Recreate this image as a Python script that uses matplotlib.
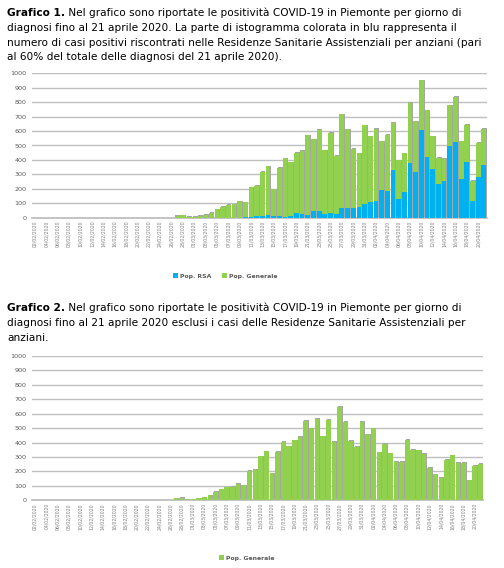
import matplotlib
matplotlib.use("Agg")
import matplotlib.pyplot as plt
import pandas as pd
import numpy as np

# ---------------- data ----------------
dates = pd.date_range("2020-02-02", "2020-04-21", freq="D")
date_labels = [d.strftime("%d/%m/%Y") for d in dates]

# Pop. Generale (non-RSA) positives per day of diagnosis, 02/02 .. 21/04
pop_generale = [0] * 25 + [
    14, 16, 6, 6, 14, 20, 35, 58, 77, 90,
    92, 113, 104, 206, 210, 305, 340, 187, 335, 404,
    374, 416, 439, 550, 499, 564, 443, 557, 404, 647,
    543, 411, 370, 543, 457, 499, 333, 390, 326, 266,
    266, 418, 349, 346, 321, 224, 180, 155, 279, 312,
    259, 259, 139, 238, 252]

# Pop. RSA positives per day of diagnosis
pop_rsa = [0] * 36 + [
    1, 2, 4, 9, 12, 16, 10, 10, 8, 9,
    33, 25, 22, 44, 46, 24, 33, 25, 68, 68,
    67, 76, 97, 108, 117, 195, 186, 330, 131, 181,
    379, 318, 606, 423, 340, 234, 252, 500, 526, 271,
    384, 116, 281, 364]

yticks = [0, 100, 200, 300, 400, 500, 600, 700, 800, 900, 1000]

caption1 = [
    ("Grafico 1.", " Nel grafico sono riportate le positività COVID-19 in Piemonte per giorno di"),
    ("", "diagnosi fino al 21 aprile 2020. La parte di istogramma colorata in blu rappresenta il"),
    ("", "numero di casi positivi riscontrati nelle Residenze Sanitarie Assistenziali per anziani (pari"),
    ("", "al 60% del totale delle diagnosi del 21 aprile 2020)."),
]
caption2 = [
    ("Grafico 2.", " Nel grafico sono riportate le positività COVID-19 in Piemonte per giorno di"),
    ("", "diagnosi fino al 21 aprile 2020 esclusi i casi delle Residenze Sanitarie Assistenziali per"),
    ("", "anziani."),
]

GREEN = "#92d050"
BLUE = "#00b0f0"
SHADOW = "#a6a6a6"
GRID = "#bfbfbf"
TXT = "#595959"

W, H = 504, 568
fig = plt.figure(figsize=(W / 100, H / 100), dpi=100)
fig.patch.set_facecolor("white")
renderer = fig.canvas.get_renderer()

CAP_FS = 7.6


def caption(lines, y_top):
    for k, (bold, normal) in enumerate(lines):
        y = 1 - (y_top + k * 14.8) / H
        x = 7 / W
        if bold:
            t = fig.text(x, y, bold, fontsize=CAP_FS, fontweight="bold",
                         va="baseline", ha="left", color="black")
            bb = t.get_window_extent(renderer)
            x = bb.x1 / W
        fig.text(x, y, normal, fontsize=CAP_FS, va="baseline", ha="left", color="black")


caption(caption1, 16)
caption(caption2, 311)

x = np.arange(len(dates))
gen = np.array(pop_generale, dtype=float)
rsa = np.array(pop_rsa, dtype=float)


def style_axis(ax):
    ax.set_xlim(-0.5, len(dates) - 0.5)
    ax.set_ylim(0, 1000)
    ax.set_yticks(yticks)
    ax.set_yticklabels([str(v) for v in yticks], fontsize=4.6, color=TXT)
    ax.yaxis.grid(True, color=GRID, linewidth=1.0)
    ax.set_axisbelow(True)
    for s in ["top", "right", "left"]:
        ax.spines[s].set_visible(False)
    ax.spines["bottom"].set_color(GRID)
    ax.spines["bottom"].set_linewidth(1.3)
    ax.tick_params(axis="both", length=0)
    ax.tick_params(axis="y", pad=4)
    ax.tick_params(axis="x", pad=2)
    ax.set_xticks(x[::2])
    ax.set_xticklabels(date_labels[::2], rotation=90, fontsize=3.3, color="#7f7f7f")


BW = 0.84
# ---------------- chart 1 ----------------
ax1 = fig.add_axes([32.3 / W, 1 - 217.7 / H, 454.4 / W, 144.4 / H])
tot = gen + rsa
ax1.bar(x + 0.13, np.where(tot > 0, tot + 4, 0), width=BW, color=SHADOW, linewidth=0, zorder=2)
b1 = ax1.bar(x, rsa, width=BW, color=BLUE, linewidth=0, zorder=3, label="Pop. RSA")
b2 = ax1.bar(x, gen, bottom=rsa, width=BW, color=GREEN, linewidth=0, zorder=3, label="Pop. Generale")
style_axis(ax1)
fig.legend(handles=[b1, b2], loc="center", bbox_to_anchor=(225 / W, 1 - 276 / H),
           ncol=2, frameon=False, prop={"size": 4.4, "weight": "bold"},
           labelcolor=TXT, handlelength=0.8, handleheight=0.8, handletextpad=0.3,
           columnspacing=1.8)

# ---------------- chart 2 ----------------
ax2 = fig.add_axes([32.3 / W, 1 - 500.3 / H, 451 / W, 144.3 / H])
ax2.bar(x + 0.13, np.where(gen > 0, gen + 4, 0), width=BW, color=SHADOW, linewidth=0, zorder=2)
b3 = ax2.bar(x, gen, width=BW, color=GREEN, linewidth=0, zorder=3, label="Pop. Generale")
style_axis(ax2)
fig.legend(handles=[b3], loc="center", bbox_to_anchor=(247 / W, 1 - 558 / H),
           ncol=1, frameon=False, prop={"size": 4.4, "weight": "bold"},
           labelcolor=TXT, handlelength=0.8, handleheight=0.8, handletextpad=0.3)

fig.savefig("out.png", dpi=100, facecolor="white")
